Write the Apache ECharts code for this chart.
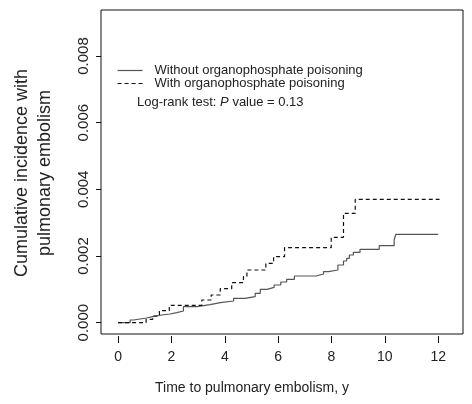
<!DOCTYPE html>
<html>
<head>
<meta charset="utf-8">
<script src="https://cdn.jsdelivr.net/npm/echarts@6/dist/echarts.min.js"></script>
<style>html,body{margin:0;padding:0;background:#fff}#c{width:472px;height:404px}</style>
</head>
<body>
<div id="c"></div>
<script>
// Data
var withoutX = [0, 0.45, 0.58, 1.07, 1.3, 1.64, 1.95, 2.2, 2.45, 2.95, 3.45, 3.83, 4.33, 4.76, 5.14, 5.33, 5.58, 5.85, 6.1, 6.32, 6.61, 7.43, 7.7, 7.89, 8.24, 8.45, 8.57, 8.67, 8.82, 9.07, 9.79, 10.35, 10.41, 12.0];
var withoutY = [0, 0.00008, 0.00014, 0.00018, 0.00023, 0.00026, 0.0003, 0.00035, 0.00048, 0.00054, 0.0006, 0.00065, 0.00073, 0.00078, 0.00088, 0.001, 0.00106, 0.00113, 0.00122, 0.0013, 0.0014, 0.00146, 0.00153, 0.00158, 0.00173, 0.00185, 0.00193, 0.00203, 0.00211, 0.0022, 0.00231, 0.00248, 0.00265, 0.00265];
var withX = [0, 1.05, 1.3, 1.55, 1.92, 3.14, 3.49, 3.83, 4.26, 4.7, 4.83, 5.54, 5.83, 6.24, 7.99, 8.45, 8.89, 12.05];
var withY = [0, 0.0001, 0.0002, 0.00036, 0.00052, 0.00068, 0.00083, 0.00102, 0.0012, 0.00138, 0.00158, 0.00178, 0.00198, 0.00225, 0.00256, 0.00328, 0.0037, 0.0037];
var xTicks = [0, 2, 4, 6, 8, 10, 12];
var yTicks = [0, 0.002, 0.004, 0.006, 0.008];
var seriesNames = ['Without organophosphate poisoning', 'With organophosphate poisoning'];

function pairs(xs, ys) { return xs.map(function (x, i) { return [x, ys[i]]; }); }

var FONT = '"Liberation Sans", Arial, sans-serif';
var chart = echarts.init(document.getElementById('c'), null, { renderer: 'canvas' });
chart.setOption({
  animation: false,
  backgroundColor: '#fff',
  grid: { left: 101, right: 9, top: 10, bottom: 70, show: true, borderColor: '#111', borderWidth: 1, containLabel: false },
  xAxis: {
    type: 'value', min: -0.64, max: 12.93, offset: 2, position: 'bottom',
    axisLine: { show: false, onZero: false },
    splitLine: { show: false },
    axisTick: { show: true, inside: false, length: 7, lineStyle: { color: '#111' }, customValues: xTicks },
    axisLabel: { show: true, margin: 14, fontSize: 14, color: '#222', fontFamily: FONT, customValues: xTicks }
  },
  yAxis: {
    type: 'value', min: -0.00034, max: 0.00938, position: 'left',
    axisLine: { show: false, onZero: false },
    splitLine: { show: false },
    axisTick: { show: true, inside: false, length: 5, lineStyle: { color: '#111' }, customValues: yTicks },
    axisLabel: { show: true, rotate: 90, margin: 10, fontSize: 15, color: '#222', fontFamily: FONT, customValues: yTicks,
      formatter: function (v) { return v.toFixed(3); } }
  },
  legend: {
    orient: 'vertical', left: 117, top: 64, itemWidth: 25, itemHeight: 10, itemGap: 0,
    padding: 0,
    itemStyle: { opacity: 0, borderWidth: 0 },
    lineStyle: { width: 1.2 },
    textStyle: { fontSize: 13, lineHeight: 13, color: '#222', fontFamily: FONT, padding: [0, 0, 0, 7] },
    data: seriesNames
  },
  series: [
    { name: seriesNames[0], type: 'line', step: 'end', symbol: 'none', showSymbol: false, data: pairs(withoutX, withoutY),
      lineStyle: { color: '#555', width: 1.2, type: 'solid' }, itemStyle: { color: '#555' } },
    { name: seriesNames[1], type: 'line', step: 'end', symbol: 'none', showSymbol: false, data: pairs(withX, withY),
      lineStyle: { color: '#111', width: 1.2, type: [4, 3] }, itemStyle: { color: '#111' } }
  ],
  graphic: [
    { type: 'text', x: 137, y: 102, style: { text: '{a|Log-rank test: }{b|P}{a| value = 0.13}', verticalAlign: 'middle',
      rich: { a: { fontSize: 13, fontFamily: FONT, fill: '#222' }, b: { fontSize: 13, fontFamily: FONT, fontStyle: 'italic', fill: '#222' } } } },
    { type: 'text', x: 252, y: 388, style: { text: 'Time to pulmonary embolism, y', fontSize: 14, fontFamily: FONT, fill: '#222', align: 'center', verticalAlign: 'middle' } },
    { type: 'text', x: 22, y: 173, rotation: Math.PI / 2, style: { text: 'Cumulative incidence with', fontSize: 18, fontFamily: FONT, fill: '#222', align: 'center', verticalAlign: 'middle' } },
    { type: 'text', x: 45, y: 173, rotation: Math.PI / 2, style: { text: 'pulmonary embolism', fontSize: 18, fontFamily: FONT, fill: '#222', align: 'center', verticalAlign: 'middle' } }
  ]
});
</script>
</body>
</html>
